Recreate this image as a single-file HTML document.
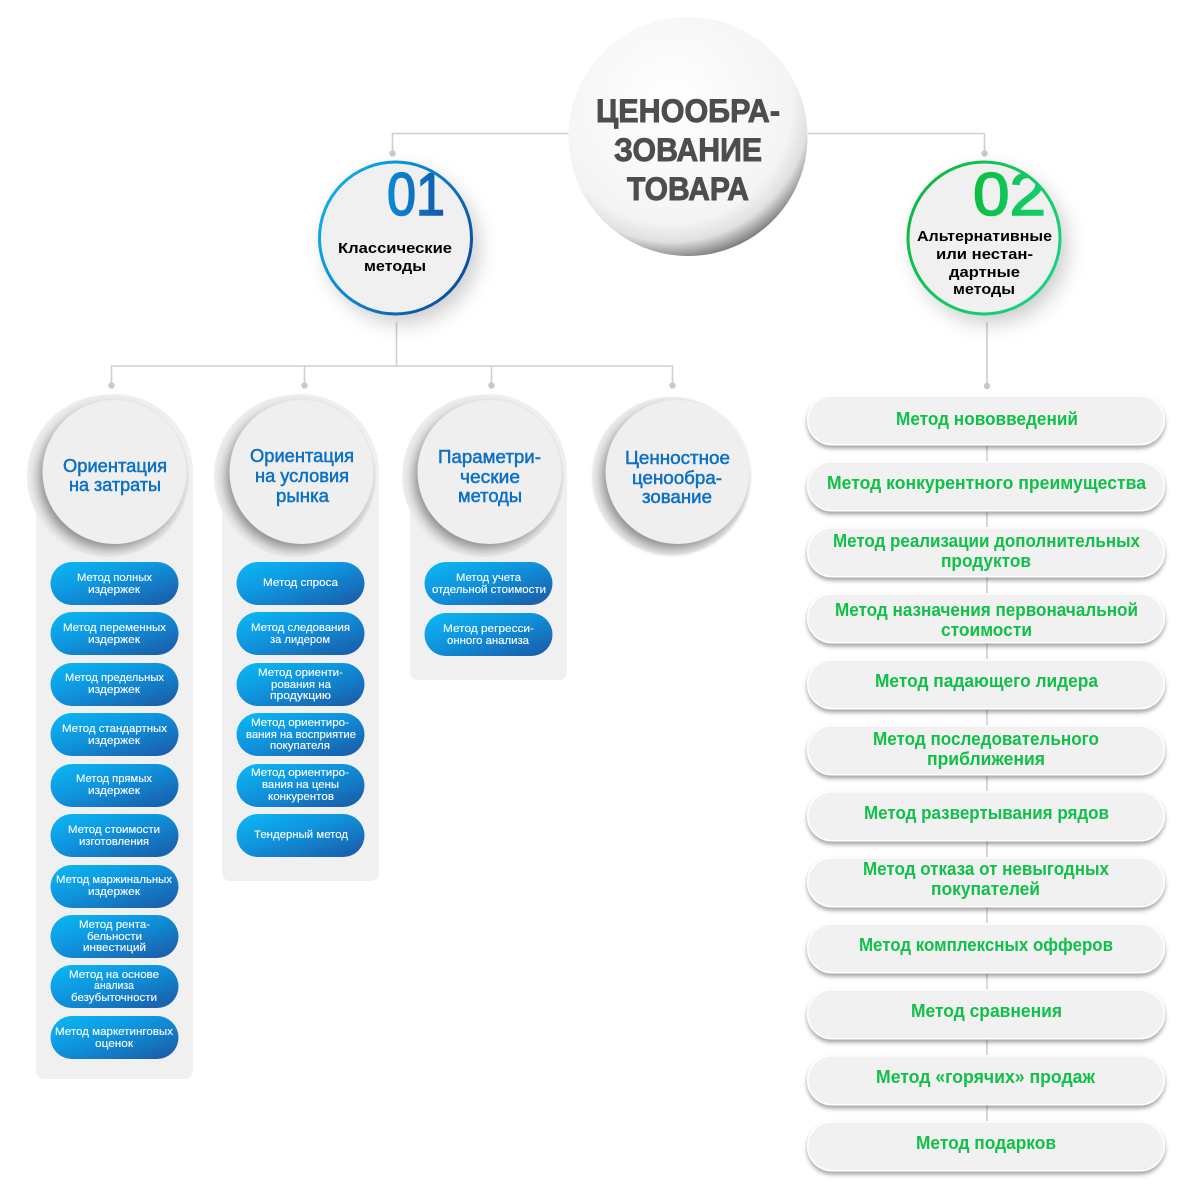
<!DOCTYPE html>
<html lang="ru">
<head>
<meta charset="utf-8">
<title>Ценообразование товара</title>
<style>
html,body{margin:0;padding:0;background:#fff;width:1200px;height:1190px;overflow:hidden}
svg{display:block}
text{font-family:"Liberation Sans","DejaVu Sans",sans-serif}
.w{font-size:11px;fill:#fff;font-weight:400;stroke:#fff;stroke-width:.12}
.g{font-size:18px;fill:#10c048;font-weight:700}
.b{font-size:18px;fill:#0c70c4;font-weight:400;stroke:#0c70c4;stroke-width:.5}
.k{font-size:15px;fill:#000;font-weight:700}
.t{font-size:32px;fill:#4d4d4d;font-weight:700;stroke:#4d4d4d;stroke-width:.9}
.l{stroke:#cfcfcf;stroke-width:1.6;fill:none}
.d{fill:#c9c9c9}
.p{fill:#f1f1f1;stroke:#fff;stroke-width:1.5}
</style>
</head>
<body>
<svg xmlns="http://www.w3.org/2000/svg" width="1200" height="1190" viewBox="0 0 1200 1190">
<defs>
<radialGradient id="sph" cx=".43" cy=".36" r=".7"><stop offset="0" stop-color="#fff"/><stop offset=".72" stop-color="#f4f4f4"/><stop offset=".83" stop-color="#e0e0e0"/><stop offset=".92" stop-color="#8c8c8c"/><stop offset="1" stop-color="#444"/></radialGradient>
<linearGradient id="blue" x1="0" y1="0" x2="1" y2="1"><stop offset="0" stop-color="#0abaf5"/><stop offset=".45" stop-color="#0f93dc"/><stop offset="1" stop-color="#1b57a4"/></linearGradient>
<linearGradient id="ringB" x1="0" y1=".2" x2="1" y2=".8"><stop offset="0" stop-color="#0cb4ee"/><stop offset="1" stop-color="#0b48a0"/></linearGradient>
<linearGradient id="ringG" x1="0" y1=".2" x2="1" y2=".8"><stop offset="0" stop-color="#0db93c"/><stop offset="1" stop-color="#17d488"/></linearGradient>
<linearGradient id="numB" x1="0" y1="0" x2="1" y2="0"><stop offset="0" stop-color="#0c8ad6"/><stop offset="1" stop-color="#1258ab"/></linearGradient>
<linearGradient id="numG" x1="0" y1="0" x2="1" y2="0"><stop offset="0" stop-color="#0dbd40"/><stop offset="1" stop-color="#11cf70"/></linearGradient>
<filter id="sh" x="-30%" y="-30%" width="170%" height="170%"><feDropShadow dx="7" dy="9" stdDeviation="10" flood-color="#000" flood-opacity=".2"/></filter>
<filter id="psh" x="-5%" y="-20%" width="110%" height="150%"><feDropShadow dx="0" dy="3" stdDeviation="2" flood-color="#000" flood-opacity=".36"/></filter>
<filter id="bl" x="-30%" y="-30%" width="160%" height="160%"><feGaussianBlur stdDeviation="6"/></filter>
<clipPath id="c1"><circle cx="395.5" cy="238" r="76"/></clipPath>
<clipPath id="c2"><circle cx="984" cy="238" r="76"/></clipPath>
<clipPath id="d1"><circle cx="108" cy="476" r="81"/></clipPath>
<clipPath id="d2"><circle cx="295" cy="476" r="81"/></clipPath>
<clipPath id="d3"><circle cx="483" cy="476" r="81"/></clipPath>
<clipPath id="d4"><circle cx="671" cy="476" r="81"/></clipPath>
</defs>

<g>
<path class="l" d="M569 133.500H392.500V153"/>
<path class="l" d="M808 133.500H984.500V153"/>
<circle class="d" cx="392.500" cy="153.500" r="3.200"/>
<circle class="d" cx="984.500" cy="153.500" r="3.200"/>
<path class="l" d="M396.500 322V366M111.500 385V366H672.500V385M304.500 366V385M491.500 366V385"/>
<circle class="d" cx="111.500" cy="385.500" r="3.200"/>
<circle class="d" cx="304.500" cy="385.500" r="3.200"/>
<circle class="d" cx="491.500" cy="385.500" r="3.200"/>
<circle class="d" cx="672.500" cy="385.500" r="3.200"/>
<path class="l" d="M987 322V386M987 445V1125"/>
<circle class="d" cx="987" cy="386" r="3.200"/>
</g>

<g>
<circle cx="688" cy="136.500" r="119.500" fill="url(#sph)"/>
<text class="t" x="596" y="122" textLength="184" lengthAdjust="spacingAndGlyphs">ЦЕНООБРА-</text>
<text class="t" x="614" y="161" textLength="148" lengthAdjust="spacingAndGlyphs">ЗОВАНИЕ</text>
<text class="t" x="627" y="200" textLength="122" lengthAdjust="spacingAndGlyphs">ТОВАРА</text>
</g>

<g>
<circle cx="395.500" cy="238" r="76" fill="#f0f0f0" filter="url(#sh)"/>
<text x="387" y="215" font-size="60" font-weight="400" fill="url(#numB)" stroke="url(#numB)" stroke-width="1.600" textLength="58" lengthAdjust="spacingAndGlyphs" clip-path="url(#c1)">01</text>
<circle cx="395.500" cy="238" r="76" fill="none" stroke="url(#ringB)" stroke-width="3"/>
<text class="k" x="338" y="253" textLength="114" lengthAdjust="spacingAndGlyphs">Классические</text>
<text class="k" x="364" y="271" textLength="62" lengthAdjust="spacingAndGlyphs">методы</text>
</g>

<g>
<circle cx="984" cy="238" r="76" fill="#f0f0f0" filter="url(#sh)"/>
<text x="973" y="215" font-size="60" font-weight="400" fill="url(#numG)" stroke="url(#numG)" stroke-width="1.600" textLength="73" lengthAdjust="spacingAndGlyphs" clip-path="url(#c2)">02</text>
<circle cx="984" cy="238" r="76" fill="none" stroke="url(#ringG)" stroke-width="3"/>
<text class="k" x="917" y="241" textLength="135" lengthAdjust="spacingAndGlyphs">Альтернативные</text>
<text class="k" x="936" y="259" textLength="97" lengthAdjust="spacingAndGlyphs">или нестан-</text>
<text class="k" x="949" y="277" textLength="71" lengthAdjust="spacingAndGlyphs">дартные</text>
<text class="k" x="953" y="294" textLength="62" lengthAdjust="spacingAndGlyphs">методы</text>
</g>

<!-- panels -->
<g>
<path d="M36 472.500a78.500 78.500 0 0 1 157 0V1071a8 8 0 0 1-8 8H44a8 8 0 0 1-8-8Z" fill="#f0f0f0"/>
<circle cx="108" cy="476" r="81" fill="#eeeeee"/>
<g clip-path="url(#d1)"><circle cx="110" cy="478" r="71" fill="#888" filter="url(#bl)"/></g>
<circle cx="114.500" cy="472" r="72" fill="#efefef"/>
<text class="b" x="63" y="472" textLength="104" lengthAdjust="spacingAndGlyphs">Ориентация</text>
<text class="b" x="69" y="491" textLength="92" lengthAdjust="spacingAndGlyphs">на затраты</text>
</g>
<g>
<path d="M222 472.500a78.500 78.500 0 0 1 157 0V873a8 8 0 0 1-8 8H230a8 8 0 0 1-8-8Z" fill="#f0f0f0"/>
<circle cx="295" cy="476" r="81" fill="#eeeeee"/>
<g clip-path="url(#d2)"><circle cx="297" cy="478" r="71" fill="#888" filter="url(#bl)"/></g>
<circle cx="301.500" cy="472" r="72" fill="#efefef"/>
<text class="b" x="250" y="462" textLength="104" lengthAdjust="spacingAndGlyphs">Ориентация</text>
<text class="b" x="255" y="482" textLength="94" lengthAdjust="spacingAndGlyphs">на условия</text>
<text class="b" x="276" y="502" textLength="53" lengthAdjust="spacingAndGlyphs">рынка</text>
</g>
<g>
<path d="M410 472.500a78.500 78.500 0 0 1 157 0V672a8 8 0 0 1-8 8H418a8 8 0 0 1-8-8Z" fill="#f0f0f0"/>
<circle cx="483" cy="476" r="81" fill="#eeeeee"/>
<g clip-path="url(#d3)"><circle cx="485" cy="478" r="71" fill="#888" filter="url(#bl)"/></g>
<circle cx="489.500" cy="472" r="72" fill="#efefef"/>
<text class="b" x="438" y="463" textLength="103" lengthAdjust="spacingAndGlyphs">Параметри-</text>
<text class="b" x="460" y="483" textLength="60" lengthAdjust="spacingAndGlyphs">ческие</text>
<text class="b" x="458" y="502" textLength="64" lengthAdjust="spacingAndGlyphs">методы</text>
</g>
<g>
<circle cx="671" cy="476" r="79" fill="#eeeeee"/>
<g clip-path="url(#d4)"><circle cx="673" cy="478" r="71" fill="#888" filter="url(#bl)"/></g>
<circle cx="677.500" cy="472" r="72" fill="#efefef"/>
<text class="b" x="625" y="464" textLength="105" lengthAdjust="spacingAndGlyphs">Ценностное</text>
<text class="b" x="632" y="484" textLength="90" lengthAdjust="spacingAndGlyphs">ценообра-</text>
<text class="b" x="642" y="503" textLength="70" lengthAdjust="spacingAndGlyphs">зование</text>
</g>

<!-- column 1 pills -->
<g><rect x="50.500" y="562" width="128" height="43" rx="21.500" fill="url(#blue)"/>
<text class="w" x="77" y="581" textLength="75" lengthAdjust="spacingAndGlyphs">Метод полных</text><text class="w" x="88" y="593" textLength="52" lengthAdjust="spacingAndGlyphs">издержек</text></g>
<g><rect x="50.500" y="612" width="128" height="43" rx="21.500" fill="url(#blue)"/>
<text class="w" x="63" y="631" textLength="103" lengthAdjust="spacingAndGlyphs">Метод переменных</text><text class="w" x="88" y="643" textLength="52" lengthAdjust="spacingAndGlyphs">издержек</text></g>
<g><rect x="50.500" y="663" width="128" height="43" rx="21.500" fill="url(#blue)"/>
<text class="w" x="65" y="681" textLength="99" lengthAdjust="spacingAndGlyphs">Метод предельных</text><text class="w" x="88" y="693" textLength="52" lengthAdjust="spacingAndGlyphs">издержек</text></g>
<g><rect x="50.500" y="713" width="128" height="43" rx="21.500" fill="url(#blue)"/>
<text class="w" x="62" y="732" textLength="105" lengthAdjust="spacingAndGlyphs">Метод стандартных</text><text class="w" x="88" y="744" textLength="52" lengthAdjust="spacingAndGlyphs">издержек</text></g>
<g><rect x="50.500" y="764" width="128" height="43" rx="21.500" fill="url(#blue)"/>
<text class="w" x="76" y="782" textLength="76" lengthAdjust="spacingAndGlyphs">Метод прямых</text><text class="w" x="88" y="794" textLength="52" lengthAdjust="spacingAndGlyphs">издержек</text></g>
<g><rect x="50.500" y="814" width="128" height="43" rx="21.500" fill="url(#blue)"/>
<text class="w" x="68" y="833" textLength="92" lengthAdjust="spacingAndGlyphs">Метод стоимости</text><text class="w" x="79" y="845" textLength="70" lengthAdjust="spacingAndGlyphs">изготовления</text></g>
<g><rect x="50.500" y="865" width="128" height="43" rx="21.500" fill="url(#blue)"/>
<text class="w" x="56" y="883" textLength="116" lengthAdjust="spacingAndGlyphs">Метод маржинальных</text><text class="w" x="88" y="895" textLength="52" lengthAdjust="spacingAndGlyphs">издержек</text></g>
<g><rect x="50.500" y="915" width="128" height="43" rx="21.500" fill="url(#blue)"/>
<text class="w" x="79" y="928" textLength="71" lengthAdjust="spacingAndGlyphs">Метод рента-</text><text class="w" x="87" y="940" textLength="55" lengthAdjust="spacingAndGlyphs">бельности</text><text class="w" x="83" y="951" textLength="63" lengthAdjust="spacingAndGlyphs">инвестиций</text></g>
<g><rect x="50.500" y="965" width="128" height="43" rx="21.500" fill="url(#blue)"/>
<text class="w" x="69" y="978" textLength="90" lengthAdjust="spacingAndGlyphs">Метод на основе</text><text class="w" x="94" y="989" textLength="40" lengthAdjust="spacingAndGlyphs">анализа</text><text class="w" x="71" y="1001" textLength="86" lengthAdjust="spacingAndGlyphs">безубыточности</text></g>
<g><rect x="50.500" y="1016" width="128" height="43" rx="21.500" fill="url(#blue)"/>
<text class="w" x="55" y="1035" textLength="118" lengthAdjust="spacingAndGlyphs">Метод маркетинговых</text><text class="w" x="95" y="1047" textLength="38" lengthAdjust="spacingAndGlyphs">оценок</text></g>

<!-- column 2 pills -->
<g><rect x="236.500" y="562" width="128" height="43" rx="21.500" fill="url(#blue)"/>
<text class="w" x="263" y="586" textLength="75" lengthAdjust="spacingAndGlyphs">Метод спроса</text></g>
<g><rect x="236.500" y="612" width="128" height="43" rx="21.500" fill="url(#blue)"/>
<text class="w" x="251" y="631" textLength="99" lengthAdjust="spacingAndGlyphs">Метод следования</text><text class="w" x="270" y="643" textLength="60" lengthAdjust="spacingAndGlyphs">за лидером</text></g>
<g><rect x="236.500" y="663" width="128" height="43" rx="21.500" fill="url(#blue)"/>
<text class="w" x="258" y="676" textLength="85" lengthAdjust="spacingAndGlyphs">Метод ориенти-</text><text class="w" x="271" y="688" textLength="60" lengthAdjust="spacingAndGlyphs">рования на</text><text class="w" x="270" y="699" textLength="61" lengthAdjust="spacingAndGlyphs">продукцию</text></g>
<g><rect x="236.500" y="713" width="128" height="43" rx="21.500" fill="url(#blue)"/>
<text class="w" x="251" y="726" textLength="98" lengthAdjust="spacingAndGlyphs">Метод ориентиро-</text><text class="w" x="246" y="738" textLength="110" lengthAdjust="spacingAndGlyphs">вания на восприятие</text><text class="w" x="270" y="749" textLength="60" lengthAdjust="spacingAndGlyphs">покупателя</text></g>
<g><rect x="236.500" y="764" width="128" height="43" rx="21.500" fill="url(#blue)"/>
<text class="w" x="251" y="776" textLength="98" lengthAdjust="spacingAndGlyphs">Метод ориентиро-</text><text class="w" x="262" y="788" textLength="77" lengthAdjust="spacingAndGlyphs">вания на цены</text><text class="w" x="268" y="800" textLength="66" lengthAdjust="spacingAndGlyphs">конкурентов</text></g>
<g><rect x="236.500" y="814" width="128" height="43" rx="21.500" fill="url(#blue)"/>
<text class="w" x="254" y="838" textLength="94" lengthAdjust="spacingAndGlyphs">Тендерный метод</text></g>

<!-- column 3 pills -->
<g><rect x="424.500" y="562" width="128" height="43" rx="21.500" fill="url(#blue)"/>
<text class="w" x="456" y="581" textLength="65" lengthAdjust="spacingAndGlyphs">Метод учета</text><text class="w" x="432" y="593" textLength="114" lengthAdjust="spacingAndGlyphs">отдельной стоимости</text></g>
<g><rect x="424.500" y="613" width="128" height="43" rx="21.500" fill="url(#blue)"/>
<text class="w" x="443" y="632" textLength="91" lengthAdjust="spacingAndGlyphs">Метод регресси-</text><text class="w" x="447" y="644" textLength="82" lengthAdjust="spacingAndGlyphs">онного анализа</text></g>

<!-- right column pills -->
<g><rect class="p" x="807.750" y="395.750" width="356.500" height="49" rx="24.500" filter="url(#psh)"/>
<text class="g" x="896" y="425" textLength="182" lengthAdjust="spacingAndGlyphs">Метод нововведений</text></g>
<g><rect class="p" x="807.750" y="461.750" width="356.500" height="49" rx="24.500" filter="url(#psh)"/>
<text class="g" x="827" y="489" textLength="319" lengthAdjust="spacingAndGlyphs">Метод конкурентного преимущества</text></g>
<g><rect class="p" x="807.750" y="527.750" width="356.500" height="49" rx="24.500" filter="url(#psh)"/>
<text class="g" x="833" y="547" textLength="307" lengthAdjust="spacingAndGlyphs">Метод реализации дополнительных</text><text class="g" x="941" y="567" textLength="90" lengthAdjust="spacingAndGlyphs">продуктов</text></g>
<g><rect class="p" x="807.750" y="593.750" width="356.500" height="49" rx="24.500" filter="url(#psh)"/>
<text class="g" x="835" y="616" textLength="303" lengthAdjust="spacingAndGlyphs">Метод назначения первоначальной</text><text class="g" x="941" y="636" textLength="91" lengthAdjust="spacingAndGlyphs">стоимости</text></g>
<g><rect class="p" x="807.750" y="659.750" width="356.500" height="49" rx="24.500" filter="url(#psh)"/>
<text class="g" x="875" y="687" textLength="223" lengthAdjust="spacingAndGlyphs">Метод падающего лидера</text></g>
<g><rect class="p" x="807.750" y="725.750" width="356.500" height="49" rx="24.500" filter="url(#psh)"/>
<text class="g" x="873" y="745" textLength="226" lengthAdjust="spacingAndGlyphs">Метод последовательного</text><text class="g" x="927" y="765" textLength="118" lengthAdjust="spacingAndGlyphs">приближения</text></g>
<g><rect class="p" x="807.750" y="791.750" width="356.500" height="49" rx="24.500" filter="url(#psh)"/>
<text class="g" x="864" y="819" textLength="245" lengthAdjust="spacingAndGlyphs">Метод развертывания рядов</text></g>
<g><rect class="p" x="807.750" y="857.750" width="356.500" height="49" rx="24.500" filter="url(#psh)"/>
<text class="g" x="863" y="875" textLength="246" lengthAdjust="spacingAndGlyphs">Метод отказа от невыгодных</text><text class="g" x="931" y="895" textLength="109" lengthAdjust="spacingAndGlyphs">покупателей</text></g>
<g><rect class="p" x="807.750" y="923.750" width="356.500" height="49" rx="24.500" filter="url(#psh)"/>
<text class="g" x="859" y="951" textLength="254" lengthAdjust="spacingAndGlyphs">Метод комплексных офферов</text></g>
<g><rect class="p" x="807.750" y="989.750" width="356.500" height="49" rx="24.500" filter="url(#psh)"/>
<text class="g" x="911" y="1017" textLength="151" lengthAdjust="spacingAndGlyphs">Метод сравнения</text></g>
<g><rect class="p" x="807.750" y="1055.750" width="356.500" height="49" rx="24.500" filter="url(#psh)"/>
<text class="g" x="876" y="1083" textLength="219" lengthAdjust="spacingAndGlyphs">Метод «горячих» продаж</text></g>
<g><rect class="p" x="807.750" y="1121.750" width="356.500" height="49" rx="24.500" filter="url(#psh)"/>
<text class="g" x="916" y="1149" textLength="140" lengthAdjust="spacingAndGlyphs">Метод подарков</text></g>
</svg>
</body>
</html>
